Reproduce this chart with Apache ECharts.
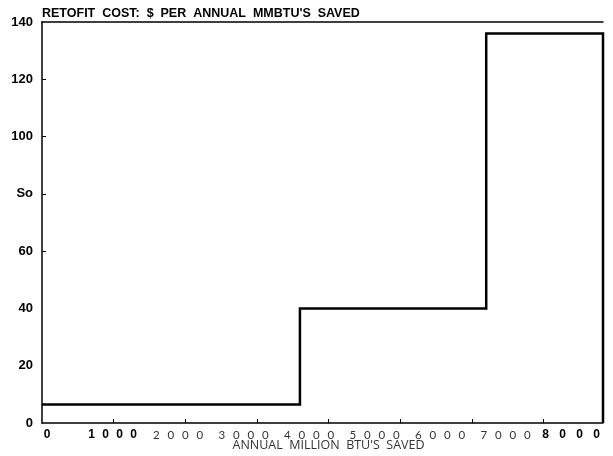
<!DOCTYPE html>
<html>
<head>
<meta charset="utf-8">
<script src="https://cdn.jsdelivr.net/npm/echarts@6/dist/echarts.min.js"></script>
<style>
  html, body { margin: 0; padding: 0; background: #fff; }
  #chart { width: 613px; height: 456px; }
</style>
</head>
<body>
<div id="chart"></div>
<script>
// Step curve: retrofit cost per annual MMBTU saved vs. cumulative savings
const savedMMBtu = [0, 3600, 3600, 6200, 6200, 7830, 7830];
const costPerMMBtu = [6.5, 6.5, 40, 40, 136, 136, 0];

// Axis tick labels as printed
const yTickValues = [0, 20, 40, 60, 80, 100, 120, 140];
const yTickText = ['0', '20', '40', '60', 'So', '100', '120', '140'];
const xTickText = ['0', '1000', '2000', '3000', '4000', '5000', '6000', '7000', '8000'];
const xBoldLabels = ['0', '1000', '8000'];

const titleText = "RETOFIT  COST:  $  PER  ANNUAL  MMBTU'S  SAVED";
const xAxisTitle = "ANNUAL  MILLION  BTU'S  SAVED";

const points = savedMMBtu.map((x, i) => [x, costPerMMBtu[i]]);

function spacedLabel(value) {
  const txt = xTickText[Math.round(value / 1000)];
  if (txt === undefined) return '';
  let style = 'l';
  if (xBoldLabels.indexOf(txt) >= 0) style = txt === '8000' ? 'b8' : 'b';
  if (txt.length === 1) return '{' + style + '|' + txt + '}';
  return txt.split('').map(ch => '{' + style + '|' + ch + '}').join('');
}

const chart = echarts.init(document.getElementById('chart'), null, { renderer: 'canvas' });

chart.setOption({
  animation: false,
  backgroundColor: '#fff',
  title: {
    text: titleText,
    left: 37,
    top: 2,
    textStyle: { fontFamily: 'Liberation Sans', fontWeight: 'bold', fontSize: 12.5, color: '#000' }
  },
  grid: [
    { left: 42, right: 10, top: 22, bottom: 33, outerBoundsMode: 'none', containLabel: false },
    { left: 47, width: 524, top: 22, bottom: 33, outerBoundsMode: 'none', containLabel: false }
  ],
  xAxis: [
    {
      gridIndex: 0, type: 'value', min: 0, max: 7830, interval: 1000,
      axisLine: { lineStyle: { color: '#000', width: 1.5 } },
      axisTick: { show: true, inside: true, length: 4, customValues: [1000, 2000, 3000, 4000, 5000, 6000, 7000], lineStyle: { color: '#000', width: 1 } },
      axisLabel: { show: false },
      splitLine: { show: false },
      name: xAxisTitle,
      nameLocation: 'middle',
      nameGap: 16,
      nameTextStyle: { fontFamily: 'Open Sans', fontSize: 12.5, color: '#333', padding: [0, 0, 0, 12] }
    },
    {
      gridIndex: 0, type: 'value', position: 'top', min: 0, max: 7830,
      axisLine: { show: true, lineStyle: { color: '#000', width: 1.5 } },
      axisTick: { show: false },
      axisLabel: { show: false },
      splitLine: { show: false }
    },
    {
      gridIndex: 1, type: 'value', min: 0, max: 8000, interval: 1000,
      axisLine: { show: false },
      axisTick: { show: false },
      splitLine: { show: false },
      axisLabel: {
        margin: 6,
        formatter: spacedLabel,
        rich: {
          b: { fontFamily: 'Liberation Sans', fontWeight: 'bold', fontSize: 12, color: '#000', width: 14, align: 'center' },
          b8: { fontFamily: 'Liberation Sans', fontWeight: 'bold', fontSize: 12, color: '#000', width: 17, align: 'center' },
          l: { fontFamily: 'Lato', fontSize: 11.5, color: '#333', width: 14.5, align: 'center' }
        }
      }
    }
  ],
  yAxis: [
    {
      gridIndex: 0, type: 'value', min: 0, max: 140, interval: 20,
      axisLine: { show: true, lineStyle: { color: '#000', width: 1.5 } },
      axisTick: { show: true, inside: true, length: 4, customValues: [60, 80, 100, 120], lineStyle: { color: '#000', width: 1 } },
      axisLabel: {
        margin: 9,
        fontFamily: 'Liberation Sans', fontWeight: 'bold', fontSize: 13, color: '#000',
        formatter: v => yTickText[yTickValues.indexOf(v)] ?? ''
      },
      splitLine: { show: false }
    },
    { gridIndex: 1, type: 'value', min: 0, max: 140, show: false }
  ],
  series: [
    {
      type: 'line',
      xAxisIndex: 0,
      yAxisIndex: 0,
      data: points,
      symbol: 'none',
      clip: false,
      lineStyle: { color: '#000', width: 2.5, join: 'miter' }
    }
  ]
});
</script>
</body>
</html>
